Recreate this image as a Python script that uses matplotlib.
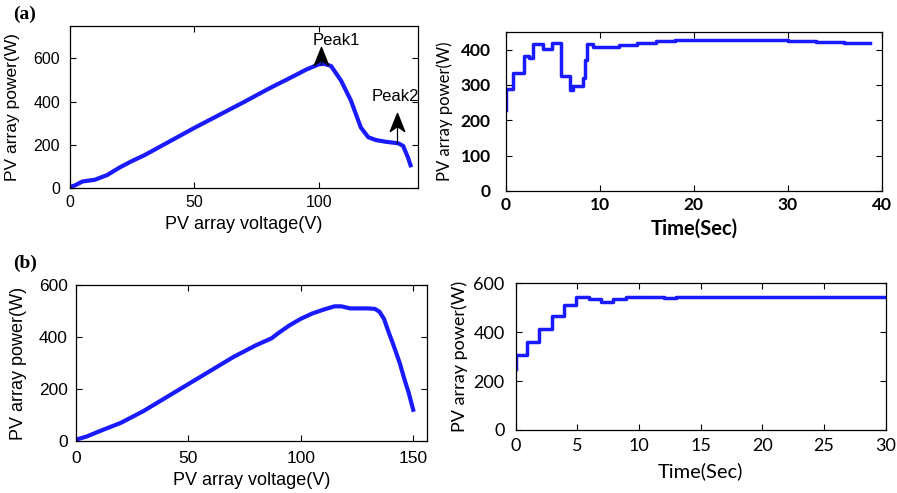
import matplotlib
matplotlib.use("Agg")
import matplotlib.pyplot as plt
from matplotlib.path import Path
import numpy as np

# ---- data ----
# (a) left: P-V curve with two peaks
va = [0, 2, 5, 10, 15, 20, 25, 30, 40, 50, 60, 70, 80, 90, 95, 100, 102, 105, 109, 113, 117, 120, 123, 127, 132, 134, 136, 137]
pa = [5, 12, 30, 38, 60, 95, 125, 152, 215, 278, 338, 398, 460, 518, 548, 572, 575, 565, 498, 405, 280, 235, 222, 214, 207, 195, 140, 105]
# (a) right: power vs time (step)
ta = [0, 0.05, 0.8, 1.9, 2.5, 2.9, 4.0, 4.9, 5.9, 6.8, 7.1, 8.2, 8.4, 8.6, 9.3, 12, 14, 16, 18, 20, 22, 25, 28, 30, 33, 36, 38.7]
pta = [230, 290, 334, 381, 375, 415, 402, 419, 325, 287, 297, 320, 370, 416, 407, 413, 420, 424, 427, 428, 428, 427, 426, 425, 422, 420, 418]
# (b) left: P-V curve
vb = [0, 5, 10, 20, 30, 40, 50, 60, 70, 80, 87, 90, 95, 100, 105, 110, 115, 118, 122, 130, 133, 135, 137, 139, 141, 144, 146, 148, 150]
pb = [5, 18, 36, 70, 115, 167, 219, 271, 323, 368, 395, 415, 445, 470, 490, 505, 518, 518, 510, 510, 508, 497, 470, 420, 374, 300, 240, 185, 120]
# (b) right: power vs time (step)
tb = [0, 0.05, 0.9, 1.9, 2.9, 3.9, 4.9, 5.9, 6.9, 7.9, 8.9, 12, 13, 14, 18, 22, 26, 30]
ptb = [250, 307, 361, 413, 464, 511, 545, 535, 522, 535, 545, 540, 543, 545, 545, 545, 545, 545]

# annotations: (label, voltage, curve power, arrow-tip power, text x, text y)
peaks = [("Peak1", 100.8, 576, 651, 107, 682), ("Peak2", 131.5, 209, 349, 131, 425)]

blue = "#1a1aff"
fig = plt.figure(figsize=(8.97, 4.93), dpi=100)

sans = ["Liberation Sans", "DejaVu Sans"]
cal = ["Lato", "DejaVu Sans"]

def style(ax, fam, weight, fs, xpad, ypad):
    ax.tick_params(direction="in", top=True, right=True, length=4, width=0.8, labelsize=fs)
    ax.tick_params(axis="x", pad=xpad)
    ax.tick_params(axis="y", pad=ypad)
    for lab in ax.get_xticklabels() + ax.get_yticklabels():
        lab.set_family(fam)
        lab.set_fontweight(weight)
    for s in ax.spines.values():
        s.set_linewidth(0.9)

head = Path([(0, 0), (-0.4, -1), (0, -0.72), (0.4, -1), (0, 0)],
            [Path.MOVETO, Path.LINETO, Path.LINETO, Path.LINETO, Path.CLOSEPOLY])

# (a) left
ax1 = fig.add_axes([0.078, 0.6187, 0.388, 0.3286])
ax1.plot(va, pa, color=blue, lw=3)
ax1.set_xlim(0, 140)
ax1.set_ylim(0, 750)
ax1.set_xticks([0, 50, 100])
ax1.set_yticks([0, 200, 400, 600])
ax1.set_xlabel("PV array voltage(V)", family=sans, fontsize=13)
ax1.set_ylabel("PV array power(W)", family=sans, fontsize=12.5)
ax1.xaxis.set_label_coords(0.5, -0.17)
ax1.yaxis.set_label_coords(-0.144, 0.5)
style(ax1, sans, "normal", 11.5, 5, 7)
for name, v, p0, p1, tx, ty in peaks:
    ax1.plot([v, v], [p0, p1 - 40], color="black", lw=0.9)
    ax1.plot([v], [p1], marker=head, markersize=26, color="black", clip_on=False)
    ax1.text(tx, ty, name, family=sans, fontsize=12, ha="center", va="center")

# (a) right
ax2 = fig.add_axes([0.564, 0.6126, 0.419, 0.3225])
ax2.plot(ta, pta, color=blue, lw=2.5, drawstyle="steps-post")
ax2.set_xlim(0, 40)
ax2.set_ylim(0, 450)
ax2.set_xticks([0, 10, 20, 30, 40])
ax2.set_yticks([0, 100, 200, 300, 400])
ax2.set_xlabel("Time(Sec)", family=cal, fontsize=14.5, fontweight="bold")
ax2.set_ylabel("PV array power(W)", family=cal, fontsize=12)
ax2.xaxis.set_label_coords(0.5, -0.175)
ax2.yaxis.set_label_coords(-0.141, 0.5)
style(ax2, cal, "bold", 12.5, 4.5, 11)

# (b) left
ax3 = fig.add_axes([0.0847, 0.1055, 0.391, 0.3164])
ax3.plot(vb, pb, color=blue, lw=3)
ax3.set_xlim(0, 156)
ax3.set_ylim(0, 600)
ax3.set_xticks([0, 50, 100, 150])
ax3.set_yticks([0, 200, 400, 600])
ax3.set_xlabel("PV array voltage(V)", family=sans, fontsize=13)
ax3.set_ylabel("PV array power(W)", family=sans, fontsize=13)
ax3.xaxis.set_label_coords(0.5, -0.2)
ax3.yaxis.set_label_coords(-0.14, 0.5)
style(ax3, sans, "normal", 12.5, 7.5, 6)

# (b) right
ax4 = fig.add_axes([0.575, 0.1278, 0.4125, 0.298])
ax4.plot(tb, ptb, color=blue, lw=2.5, drawstyle="steps-post")
ax4.set_xlim(0, 30)
ax4.set_ylim(0, 600)
ax4.set_xticks([0, 5, 10, 15, 20, 25, 30])
ax4.set_yticks([0, 200, 400, 600])
ax4.set_xlabel("Time(Sec)", family=cal, fontsize=14.5)
ax4.set_ylabel("PV array power(W)", family=cal, fontsize=13)
ax4.xaxis.set_label_coords(0.5, -0.22)
ax4.yaxis.set_label_coords(-0.13, 0.5)
style(ax4, cal, "normal", 13, 6, 8)

serif = ["Liberation Serif", "DejaVu Serif"]
fig.text(0.015, 0.97, "(a)", family=serif, fontweight="bold", fontsize=14, va="center")
fig.text(0.015, 0.465, "(b)", family=serif, fontweight="bold", fontsize=14, va="center")

fig.savefig("out.png", dpi=100)
